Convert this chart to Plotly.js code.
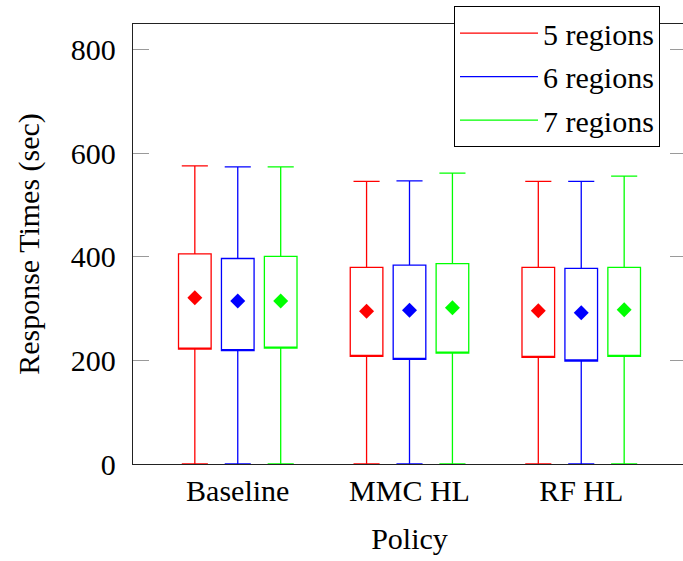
<!DOCTYPE html>
<html>
<head>
<meta charset="utf-8">
<script src="https://cdn.plot.ly/plotly-3.0.1.min.js"></script>
<style>
html, body { margin: 0; padding: 0; overflow: hidden; background: #fff; }
#chart { width: 692px; height: 561px; }
</style>
</head>
<body>
<div id="chart"></div>
<script>
// Categories and series
const policies = ["Baseline", "MMC HL", "RF HL"];
const seriesNames = ["5 regions", "6 regions", "7 regions"];
const seriesColors = ["#ff0000", "#0000ff", "#00ff00"];

// Box statistics per series (values in seconds), one entry per policy
const lower5 = [0, 0, 0];
const q1_5 = [222, 208, 206];
const median5 = [222, 208, 206];
const q3_5 = [406, 380, 380];
const upper5 = [576, 546, 546];
const mean5 = [321, 295, 296];

const lower6 = [0, 0, 0];
const q1_6 = [219, 202, 199];
const median6 = [219, 202, 199];
const q3_6 = [397, 384, 378];
const upper6 = [574, 547, 546];
const mean6 = [315, 297, 292];

const lower7 = [0, 0, 0];
const q1_7 = [224, 214, 208];
const median7 = [224, 214, 208];
const q3_7 = [401, 387, 380];
const upper7 = [574, 562, 556];
const mean7 = [315, 302, 298];

const yTicks = [0, 200, 400, 600, 800];

const stats = [
  {lower: lower5, q1: q1_5, med: median5, q3: q3_5, upper: upper5, mean: mean5},
  {lower: lower6, q1: q1_6, med: median6, q3: q3_6, upper: upper6, mean: mean6},
  {lower: lower7, q1: q1_7, med: median7, q3: q3_7, upper: upper7, mean: mean7}
];
const offsets = [-0.25, 0, 0.25];
const catIdx = policies.map((p, i) => i);

const traces = [];
stats.forEach((s, k) => {
  const xs = catIdx.map(i => i + offsets[k]);
  traces.push({
    type: "box",
    x: xs,
    q1: s.q1, median: s.med, q3: s.q3,
    lowerfence: s.lower, upperfence: s.upper,
    width: 0.19,
    whiskerwidth: 0.8,
    line: {color: seriesColors[k], width: 1.3},
    fillcolor: "rgba(255,255,255,0)",
    boxpoints: false,
    showlegend: false,
    hoverinfo: "skip"
  });
  traces.push({
    type: "scatter",
    mode: "markers",
    x: xs,
    y: s.mean,
    marker: {symbol: "diamond", size: 11.5, color: seriesColors[k]},
    showlegend: false,
    hoverinfo: "skip"
  });
});
seriesNames.forEach((n, k) => {
  traces.push({
    type: "scatter",
    mode: "lines",
    x: [null], y: [null],
    name: n,
    legendgroup: "g" + k,
    line: {color: seriesColors[k], width: 1.2},
    showlegend: true
  });
});

const font = {family: "Liberation Serif", size: 30, color: "#000"};

const layout = {
  width: 692,
  height: 561,
  margin: {l: 133, r: 6, t: 22, b: 96.5},
  paper_bgcolor: "#fff",
  plot_bgcolor: "#fff",
  font: font,
  showlegend: true,
  boxmode: "overlay",
  xaxis: {
    range: [-0.61, 2.61],
    tickvals: catIdx,
    ticktext: policies,
    ticks: "",
    showgrid: false,
    zeroline: false,
    showline: true,
    linecolor: "#222",
    linewidth: 1.2,
    mirror: true,
    tickfont: font,
    title: {text: "Policy", font: font, standoff: 21}
  },
  yaxis: {
    range: [0, 850],
    tickvals: yTicks,
    ticktext: yTicks.map(String),
    ticks: "inside",
    ticklen: 16,
    tickwidth: 1,
    tickcolor: "#9a9a9a",
    showgrid: false,
    zeroline: false,
    showline: true,
    linecolor: "#222",
    linewidth: 1.2,
    mirror: "ticks",
    ticklabelstandoff: 10,
    tickfont: font,
    title: {text: "Response Times (sec)", font: font, standoff: 22}
  },
  legend: {
    x: (454 - 133) / 553,
    xanchor: "left",
    y: (464.5 - 4) / 442.5,
    yanchor: "top",
    bgcolor: "#fff",
    bordercolor: "#000",
    borderwidth: 1,
    font: font,
    itemwidth: 78,
    tracegroupgap: 1.5
  }
};

Plotly.newPlot("chart", traces, layout, {displayModeBar: false, staticPlot: true});
</script>
</body>
</html>
